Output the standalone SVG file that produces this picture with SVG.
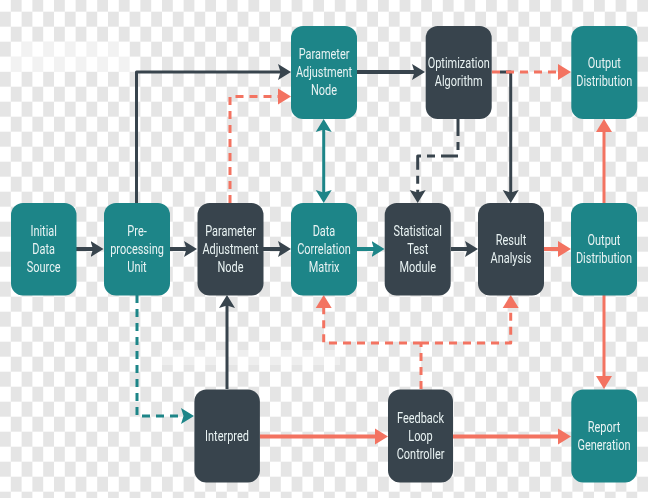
<svg xmlns="http://www.w3.org/2000/svg" width="648" height="498" viewBox="0 0 648 498">
<style>
.teal{fill:#1d8588}
.dark{fill:#38444d}
text{font-family:Roboto,"Liberation Sans",sans-serif;font-size:15px;fill:#e9f3f3;text-anchor:middle;transform-box:fill-box;transform-origin:center;transform:scaleX(.73)}
.c{fill:none;stroke-width:3;stroke-linejoin:round}
.d{stroke:#38444d}
.t{stroke:#1d8588}
.o{stroke:#f37361}
.w{stroke-width:4}
.dash{stroke-dasharray:8 6}
</style>
<defs>
<pattern id="checker" width="21.6" height="30" x="0" y="-3.3" patternUnits="userSpaceOnUse">
<rect width="21.6" height="30" fill="#fff"/>
<rect x="10.8" y="0" width="10.8" height="15" fill="#e5e5e5"/>
<rect x="0" y="15" width="10.8" height="15" fill="#e5e5e5"/>
</pattern>
<marker id="ad" markerUnits="userSpaceOnUse" markerWidth="14" markerHeight="18" viewBox="0 0 14 18" refX="7" refY="9" orient="auto-start-reverse"><path d="M0 1L13 9L0 17L2.5 9Z" fill="#38444d"/></marker>
<marker id="at" markerUnits="userSpaceOnUse" markerWidth="14" markerHeight="18" viewBox="0 0 14 18" refX="7" refY="9" orient="auto-start-reverse"><path d="M0 1L13 9L0 17L2.5 9Z" fill="#1d8588"/></marker>
<marker id="ao" markerUnits="userSpaceOnUse" markerWidth="14" markerHeight="18" viewBox="0 0 14 18" refX="7" refY="9" orient="auto-start-reverse"><path d="M0 1L13 9L0 17Z" fill="#f37361"/></marker>
</defs>
<rect width="648" height="498" fill="url(#checker)"/>
<g fill="#fff" opacity="0.5">
<rect x="22" y="41.7" width="108" height="15"/>
<rect x="0" y="56.7" width="140" height="15"/>
<rect x="160" y="350" width="180" height="15" opacity="0.7"/>
</g>
<g id="connectors">
<path class="c d w" marker-end="url(#ad)" d="M76 249H97.500"/>
<path class="c d w" marker-end="url(#ad)" d="M170 249H191"/>
<path class="c d w" marker-end="url(#ad)" d="M263 249H285"/>
<path class="c t w" marker-end="url(#at)" d="M357 249H378.500"/>
<path class="c d w" marker-end="url(#ad)" d="M451 249H472"/>
<path class="c o w" marker-end="url(#ao)" d="M544 249H565"/>
<path class="c d" marker-end="url(#ad)" d="M136.500 203V72H285"/>
<path class="c o dash" marker-end="url(#ao)" d="M230 203V96.500H285"/>
<path class="c d w" marker-end="url(#ad)" d="M357 72H419"/>
<path class="c d" marker-end="url(#ad)" d="M500 72H510.700V197"/>
<path class="c o dash" marker-end="url(#ao)" d="M492 72H565"/>
<path class="c d" marker-end="url(#ad)" d="M458 119V156H417.700V197" style="stroke-dasharray:17 6 8 6"/>
<path class="c t" marker-start="url(#at)" marker-end="url(#at)" d="M323.700 125V197"/>
<path class="c o" marker-end="url(#ao)" d="M604 203V125"/>
<path class="c o" marker-end="url(#ao)" d="M604 295V383"/>
<path class="c t dash" marker-end="url(#at)" d="M137 295V416H188"/>
<path class="c d" marker-end="url(#ad)" d="M227 389V301"/>
<path class="c o w" marker-end="url(#ao)" d="M260 436.500H382"/>
<path class="c o w" marker-end="url(#ao)" d="M453 436.500H565"/>
<path class="c o dash" d="M421 389V343"/>
<path class="c o dash" marker-end="url(#ao)" d="M421 343H323.700V301"/>
<path class="c o dash" marker-end="url(#ao)" d="M421 343H510.700V301"/>
</g>
<g id="initial-data-source"><rect class="teal" x="11" y="203" width="65.500" height="92.500" rx="12"/><text x="43.700" y="236.500">Initial</text><text x="43.700" y="254.500">Data</text><text x="43.700" y="272.500">Source</text></g>
<g id="pre-processing-unit"><rect class="teal" x="104" y="203" width="66" height="92.500" rx="12"/><text x="137" y="236.500">Pre-</text><text x="137" y="254.500">processing</text><text x="137" y="272.500">Unit</text></g>
<g id="parameter-adjustment-node-mid"><rect class="dark" x="197.500" y="203" width="66" height="92.500" rx="12"/><text x="230.500" y="236.500">Parameter</text><text x="230.500" y="254.500">Adjustment</text><text x="230.500" y="272.500">Node</text></g>
<g id="data-correlation-matrix"><rect class="teal" x="291" y="203" width="66" height="92.500" rx="12"/><text x="324" y="236.500">Data</text><text x="324" y="254.500">Correlation</text><text x="324" y="272.500">Matrix</text></g>
<g id="statistical-test-module"><rect class="dark" x="384.700" y="203" width="66" height="92.500" rx="12"/><text x="417.700" y="236.500">Statistical</text><text x="417.700" y="254.500">Test</text><text x="417.700" y="272.500">Module</text></g>
<g id="result-analysis"><rect class="dark" x="478" y="203" width="66" height="92.500" rx="12"/><text x="511" y="245.500">Result</text><text x="511" y="263.500">Analysis</text></g>
<g id="output-distribution-mid"><rect class="teal" x="571" y="203" width="66" height="92.500" rx="12"/><text x="604" y="245.500">Output</text><text x="604" y="263.500">Distribution</text></g>
<g id="parameter-adjustment-node-top"><rect class="teal" x="291" y="26" width="66" height="93" rx="12"/><text x="324" y="59">Parameter</text><text x="324" y="77">Adjustment</text><text x="324" y="95">Node</text></g>
<g id="optimization-algorithm"><rect class="dark" x="425.700" y="26" width="66" height="93" rx="12"/><text x="458.700" y="68">Optimization</text><text x="458.700" y="86">Algorithm</text></g>
<g id="output-distribution-top"><rect class="teal" x="571.300" y="26" width="66" height="93" rx="12"/><text x="604.300" y="68">Output</text><text x="604.300" y="86">Distribution</text></g>
<g id="interpred"><rect class="dark" x="194.400" y="389.500" width="65.500" height="93" rx="12"/><text x="227" y="441">Interpred</text></g>
<g id="feedback-loop-controller"><rect class="dark" x="388" y="389.500" width="65" height="93" rx="12"/><text x="420.500" y="423">Feedback</text><text x="420.500" y="441">Loop</text><text x="420.500" y="459">Controller</text></g>
<g id="report-generation"><rect class="teal" x="571.300" y="389.500" width="65.700" height="93" rx="12"/><text x="604" y="432">Report</text><text x="604" y="450">Generation</text></g>
</svg>
